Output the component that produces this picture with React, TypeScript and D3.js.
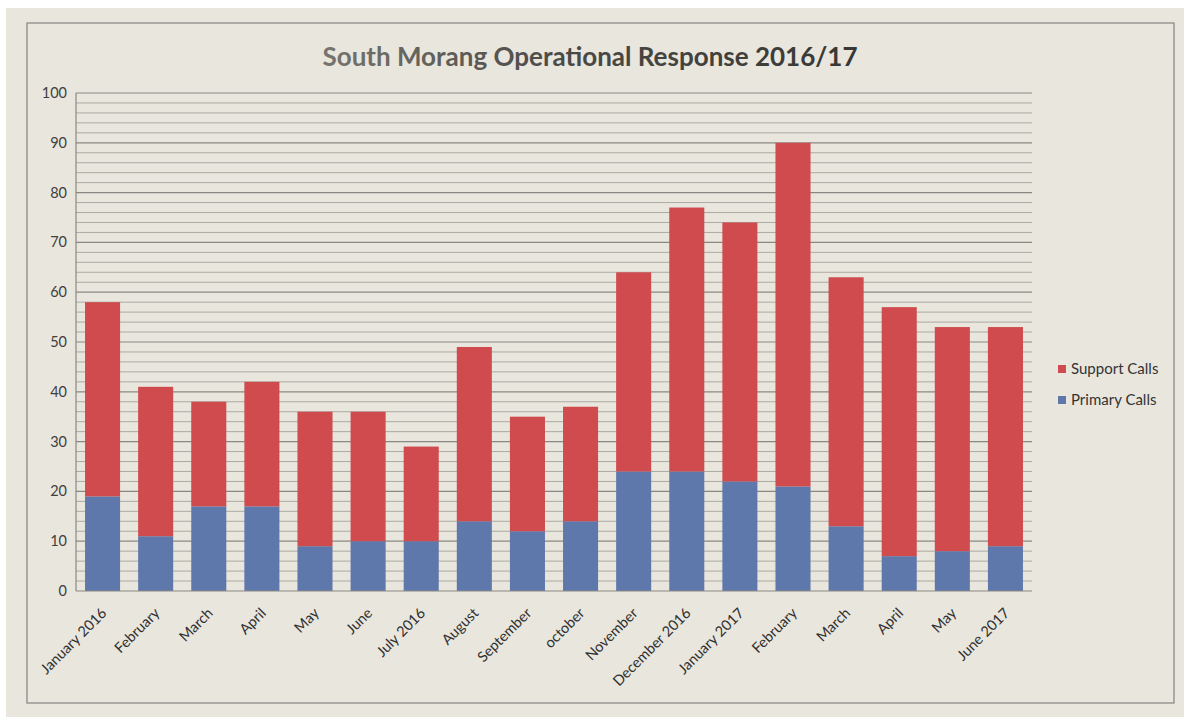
import React from "react";
import * as d3 from "d3";

const categories = [
  "January 2016", "February", "March", "April", "May", "June", "July 2016",
  "August", "September", "october", "November", "December 2016",
  "January 2017", "February", "March", "April", "May", "June 2017",
];
const primaryCalls = [19, 11, 17, 17, 9, 10, 10, 14, 12, 14, 24, 24, 22, 21, 13, 7, 8, 9];
const supportCalls = [39, 30, 21, 25, 27, 26, 19, 35, 23, 23, 40, 53, 52, 69, 50, 50, 45, 44];
const yTicks = [0, 10, 20, 30, 40, 50, 60, 70, 80, 90, 100];
const title = "South Morang Operational Response 2016/17";
const seriesNames = ["Support Calls", "Primary Calls"];

const W = 1184;
const H = 717;
const FONT = "Lato, 'Open Sans', sans-serif";
const RED = "#cf4b4e";
const BLUE = "#5f78ab";
const BG = "#e9e6de";

export default function App() {
  const idx = categories.map((_, i) => String(i));
  const x = d3.scaleBand().domain(idx).range([76, 1032]).paddingInner(0.34).paddingOuter(0.17);
  const y = d3.scaleLinear().domain([0, 100]).range([591, 93]);

  const rows = categories.map((c, i) => ({ primary: primaryCalls[i], support: supportCalls[i] }));
  const stack = d3.stack<any>().keys(["primary", "support"])(rows as any);
  const colors: Record<string, string> = { primary: BLUE, support: RED };

  const gridVals = d3.range(2, 101, 2);

  return (
    <svg width={W} height={H} style={{ position: "absolute", left: 0, top: 0, display: "block" }}>
      <defs>
        <linearGradient id="titleGrad" x1="0" x2="1" y1="0" y2="0">
          <stop offset="0" stopColor="#75746e" />
          <stop offset="0.45" stopColor="#4a4946" />
          <stop offset="1" stopColor="#373734" />
        </linearGradient>
      </defs>
      <rect x={0} y={0} width={W} height={H} fill="#ffffff" />
      <rect x={6} y={8} width={W - 6} height={H - 8} fill={BG} />
      <rect x={27} y={23} width={1147} height={680} fill="none" stroke="#8d8b85" strokeWidth={1.3} />

      <text x={590} y={66} textAnchor="middle" fontFamily={FONT} fontWeight={700} fontSize={26} fill="url(#titleGrad)">
        {title}
      </text>

      {gridVals.map((v) => (
        <line
          key={v}
          x1={x.range()[0]}
          x2={x.range()[1]}
          y1={y(v)}
          y2={y(v)}
          stroke={v % 10 === 0 ? "#8a8882" : "#a5a39c"}
          strokeWidth={v % 10 === 0 ? 1.2 : 0.9}
        />
      ))}

      {stack.map((layer) => (
        <g key={layer.key} fill={colors[layer.key]}>
          {layer.map((d, i) => (
            <rect
              key={i}
              x={x(String(i))}
              width={x.bandwidth()}
              y={y(d[1])}
              height={y(d[0]) - y(d[1])}
            />
          ))}
        </g>
      ))}

      <line x1={x.range()[0]} x2={x.range()[0]} y1={y(100)} y2={y(0)} stroke="#8a8882" strokeWidth={1.2} />
      <line x1={x.range()[0]} x2={x.range()[1]} y1={y(0)} y2={y(0)} stroke="#8a8882" strokeWidth={1.2} />

      {yTicks.map((t) => (
        <text key={t} x={67} y={y(t)} dy="0.35em" textAnchor="end" fontFamily={FONT} fontSize={14.5} fill="#404040">
          {t}
        </text>
      ))}

      {categories.map((c, i) => {
        const cx = (x(String(i)) as number) + x.bandwidth() / 2 + 5;
        const cy = 614;
        return (
          <text
            key={i}
            x={cx}
            y={cy}
            textAnchor="end"
            fontFamily={FONT}
            fontSize={14.5}
            fill="#303030"
            transform={`rotate(-45 ${cx} ${cy})`}
          >
            {c}
          </text>
        );
      })}

      {seriesNames.map((s, i) => (
        <g key={s} transform={`translate(1058, ${365 + i * 31})`}>
          <rect x={0} y={0} width={8} height={8} fill={i === 0 ? RED : BLUE} />
          <text x={13} y={9} fontFamily={FONT} fontSize={15} fill="#333333">
            {s}
          </text>
        </g>
      ))}
    </svg>
  );
}
